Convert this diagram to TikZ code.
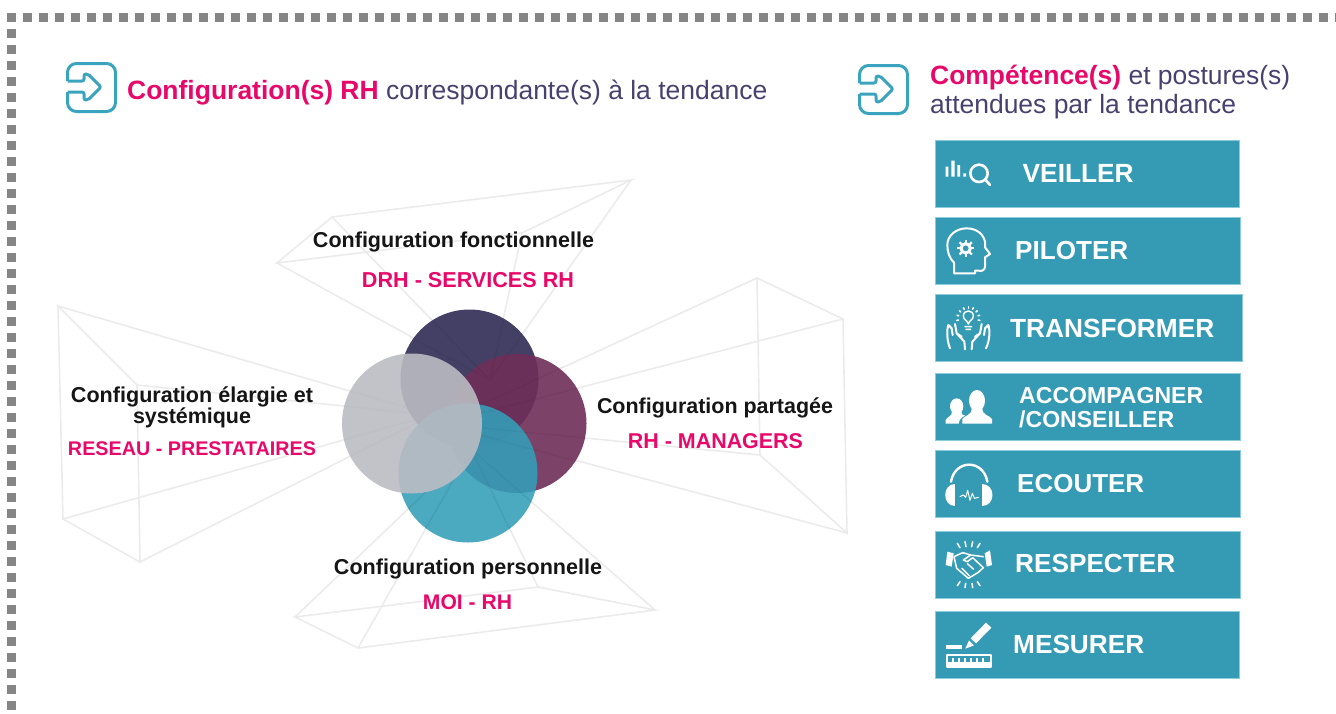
\documentclass[tikz,border=0pt]{standalone}
\usepackage{fontspec}
\usepackage{graphicx}
\usetikzlibrary{calc}
\setmainfont{Liberation Sans}
\definecolor{dotgray}{HTML}{858585}
\definecolor{pinkc}{HTML}{E8086A}
\definecolor{slatec}{HTML}{48406E}
\definecolor{tealbox}{HTML}{359BB5}
\definecolor{tealedge}{HTML}{8CCBDB}
\definecolor{iconteal}{HTML}{3AA3BD}
\definecolor{wire}{HTML}{EBEBEB}
\definecolor{navyc}{HTML}{3E3A60}
\definecolor{purpc}{HTML}{6F2E58}
\definecolor{tealc}{HTML}{359EB8}
\definecolor{grayc}{HTML}{BABCC3}
\definecolor{blackt}{HTML}{151515}
\newcommand{\fitw}[2]{\resizebox{#1pt}{!}{#2}}
\tikzset{
  x=1pt,y=-1pt,
  border dots/.style={dotgray,line width=8.6pt,dash pattern=on 8.6pt off 7.4pt},
  wireline/.style={wire,line width=1.6pt},
  wireshade/.style={black,opacity=.035,line width=1.4pt},
  labelb/.style={inner sep=0pt,anchor=base,text=blackt,font=\bfseries},
  labelp/.style={inner sep=0pt,anchor=base,text=pinkc,font=\bfseries},
  headt/.style={inner sep=0pt,anchor=base west,text=slatec},
  btn/.style={rectangle,fill=tealbox,draw=tealedge,line width=.7pt,inner sep=0pt},
  btnt/.style={inner sep=0pt,anchor=base west,text=white,font=\bfseries},
  entry/.style={iconteal,line width=3pt,line join=round},
  ico/.style={white,line width=2pt,line cap=round,line join=round},
}
\begin{document}
\begin{tikzpicture}
\useasboundingbox (0,0) rectangle (1336,713);
% dotted frame
\draw[border dots] (7,17.5) -- (1336,17.5);
\draw[border dots] (11.2,13) -- (11.2,713);
% entry icons
\foreach \sx/\sy in {0/0,792/2}{
\begin{scope}[shift={(\sx,\sy)}]
\draw[entry,rounded corners=9pt] (67.5,81) -- (67.5,63.5) -- (115.5,63.5) -- (115.5,111.5) -- (67.5,111.5) -- (67.5,92);
\draw[entry,rounded corners=2pt] (67.5,81) -- (84,81) -- (84,74) -- (88,74) -- (101,87) -- (88,100) -- (84,100) -- (84,92) -- (67.5,92);
\end{scope}}
% headings
\node[headt] (h1) at (127,99.5) {\fitw{640}{\textcolor{pinkc}{\bfseries Configuration(s) RH} correspondante(s) à la tendance}};
\node[headt] (h2) at (930,84) {\fitw{360}{\textcolor{pinkc}{\bfseries Compétence(s)} et postures(s)}};
\node[headt] (h3) at (930,113) {\fitw{306}{attendues par la tendance}};
% wire frames
\coordinate (ct) at (490,380);
\coordinate (cl) at (432,415);
\coordinate (cr) at (440,424);
\coordinate (cb) at (471,449);
\coordinate (tA) at (332,217); \coordinate (tB) at (631,180); \coordinate (tC) at (277,263); \coordinate (tD) at (522,233);
\coordinate (lA) at (58,306); \coordinate (lB) at (63,519); \coordinate (lC) at (140,562); \coordinate (lD) at (137,385);
\coordinate (rA) at (757,278); \coordinate (rB) at (843,319); \coordinate (rC) at (847,533); \coordinate (rD) at (760,455);
\coordinate (bA) at (295,617); \coordinate (bB) at (358,648); \coordinate (bC) at (655,610); \coordinate (bD) at (538,587);
\draw[wireline] (tC) -- (tA) -- (tB) -- (tD) -- cycle;
\draw[wireline] (tA) -- (ct) (tB) -- (ct) (tC) -- (ct) (tD) -- (ct);
\draw[wireline] (lA) -- (lB) -- (lC) -- (lD) -- cycle;
\draw[wireline] (lA) -- (cl) (lB) -- (cl) (lC) -- (cl) (lD) -- (cl);
\draw[wireline] (rA) -- (rB) -- (rC) -- (rD) -- cycle;
\draw[wireline] (rA) -- (cr) (rB) -- (cr) (rC) -- (cr) (rD) -- (cr);
\draw[wireline] (bA) -- (bB) -- (bC) -- (bD) -- cycle;
\draw[wireline] (bA) -- (cb) (bB) -- (cb) (bC) -- (cb) (bD) -- (cb);
% circles
\fill[navyc,opacity=.97] (469.5,378.5) circle [radius=69];
\fill[purpc,opacity=.9] (517,423.5) circle [radius=69.5];
\fill[tealc,opacity=.89] (468,473) circle [radius=69.5];
% faint traces of the wires inside the coloured circles
\coordinate (e1) at (410,337); \coordinate (e2) at (430,318); \coordinate (e3) at (504,318); \coordinate (e4) at (522,335);
\coordinate (e5) at (563,367); \coordinate (e6) at (578,388); \coordinate (e7) at (585,438); \coordinate (e8) at (578,462);
\coordinate (e9) at (407,510); \coordinate (e10) at (425,530); \coordinate (e11) at (510,530); \coordinate (e12) at (533,503);
\draw[wireshade] (e1) -- (ct) (e2) -- (ct) (e3) -- (ct) (e4) -- (ct);
\draw[wireshade] (e5) -- (cr) (e6) -- (cr) (e7) -- (cr) (e8) -- (cr);
\draw[wireshade] (e9) -- (cb) (e10) -- (cb) (e11) -- (cb) (e12) -- (cb);
\fill[grayc,opacity=.9] (412,423.5) circle [radius=70];
% labels
\node[labelb] (l1) at (453.5,247) {\fitw{281}{Configuration fonctionnelle}};
\node[labelp] (l2) at (468,287) {\fitw{212}{DRH - SERVICES RH}};
\node[labelb] (l3) at (192,402) {\fitw{242}{Configuration élargie et}};
\node[labelb] (l4) at (192,423) {\fitw{118}{systémique}};
\node[labelp] (l5) at (192,455) {\fitw{248}{RESEAU - PRESTATAIRES}};
\node[labelb] (l6) at (715,413) {\fitw{236}{Configuration partagée}};
\node[labelp] (l7) at (715.5,448) {\fitw{175}{RH - MANAGERS}};
\node[labelb] (l8) at (468,574) {\fitw{268}{Configuration personnelle}};
\node[labelp] (l9) at (467.5,609) {\fitw{89}{MOI - RH}};
% buttons
\node[btn,minimum width=303.5pt,minimum height=67pt] (b1) at (1087.2,173.5) {};
\node[btn,minimum width=305pt,minimum height=67pt] (b2) at (1088,250.7) {};
\node[btn,minimum width=306.5pt,minimum height=67pt] (b3) at (1088.7,328) {};
\node[btn,minimum width=305pt,minimum height=67pt] (b4) at (1088,406.7) {};
\node[btn,minimum width=305pt,minimum height=67pt] (b5) at (1088,484) {};
\node[btn,minimum width=305pt,minimum height=67pt] (b6) at (1088,564.5) {};
\node[btn,minimum width=303.5pt,minimum height=67pt] (b7) at (1087.2,645) {};
\node[btnt] (t1) at (1022.5,182) {\fitw{111}{VEILLER}};
\node[btnt] (t2) at (1015,259) {\fitw{113}{PILOTER}};
\node[btnt] (t3) at (1010,337) {\fitw{204}{TRANSFORMER}};
\node[btnt] (t4) at (1019,403) {\fitw{184}{ACCOMPAGNER}};
\node[btnt] (t5) at (1019,427) {\fitw{155}{/CONSEILLER}};
\node[btnt] (t6) at (1017,492) {\fitw{127}{ECOUTER}};
\node[btnt] (t7) at (1015,572) {\fitw{160}{RESPECTER}};
\node[btnt] (t8) at (1013,653) {\fitw{131}{MESURER}};
% icons, upper three
\begin{scope}[shift={(930,130)},scale=1/3]
 % veiller
 \fill[white] (47,110) rectangle (55,140) (64,92) rectangle (74,140) (82,105) rectangle (90,140) (100,130) rectangle (108,140);
 \draw[ico,line width=2.6pt] (147,130) circle [radius=26] (167,150) -- (180,165);
 % piloter
 \draw[ico] (72,430) -- (72,398) .. controls (58,385) and (52,365) .. (52,345) .. controls (52,315) and (80,295) .. (110,295) .. controls (150,295) and (170,325) .. (165,352) -- (180,372) -- (165,382) -- (165,410) .. controls (165,420) and (155,425) .. (145,422) -- (135,422) -- (135,430) -- cycle;
 \draw[ico,line width=3pt] (107,355) circle [radius=14];
 \foreach \a in {0,45,...,315}{\draw[ico,line width=2.2pt,line cap=butt] ($(107,355)+(\a:17)$) -- ($(107,355)+(\a:26)$);}
 % transformer
 \draw[ico,line width=1.4pt] (115,582) .. controls (112,570) and (100,570) .. (100,558) .. controls (100,538) and (130,538) .. (130,558) .. controls (130,570) and (118,570) .. (115,582) (105,590) -- (125,590) (108,598) -- (122,598);
 \foreach \a in {170,195,220,245,270,295,320,345,10}{\draw[ico,line width=1.6pt] ($(115,565)+(\a:30)$) -- ($(115,565)+(\a:35)$);}
 \draw[ico] (60,655) .. controls (50,630) and (50,600) .. (55,585) -- (65,595) -- (68,615) (75,582) -- (80,610) -- (103,635) -- (105,658) (80,610) -- (95,620);
 \draw[ico] (168,655) .. controls (180,630) and (180,600) .. (175,585) -- (165,595) -- (162,615) (155,582) -- (150,610) -- (127,635) -- (125,658) (150,610) -- (135,620);
\end{scope}
% icons, lower four
\begin{scope}[shift={(930,365)},scale=1/3]
 % accompagner
 \fill[white] (141,107) ellipse [x radius=24,y radius=32];
 \fill[white] (97,176) -- (97,162) .. controls (105,150) and (125,152) .. (125,130) -- (157,130) .. controls (157,152) and (178,150) .. (186,162) -- (186,176) -- cycle;
 \fill[white] (80,124) ellipse [x radius=20,y radius=24];
 \fill[white] (47,176) -- (47,165) .. controls (52,155) and (66,155) .. (66,140) -- (94,140) .. controls (94,148) and (98,150) .. (105,152) .. controls (92,158) and (88,165) .. (86,176) -- cycle;
 % ecouter
 \draw[ico,line width=2.4pt] (63,350) .. controls (75,282) and (160,282) .. (172,350);
 \fill[white] (76,358) .. controls (35,358) and (35,422) .. (76,422) -- cycle;
 \fill[white] (155,358) .. controls (198,358) and (198,422) .. (155,422) -- cycle;
 \draw[ico,line width=1pt] (90,395) -- (100,390) -- (107,397) -- (113,376) -- (120,406) -- (127,385) -- (133,400) -- (145,397);
 % respecter
 \fill[white] (52,560) -- (71,565) -- (65,605) -- (47,600) -- cycle;
 \fill[white] (164,565) -- (180,556) -- (186,600) -- (170,605) -- cycle;
 \draw[ico,line width=1.5pt] (72,575) -- (98,563) -- (122,570) -- (100,585) -- (112,590) -- (128,578) -- (160,608) -- (145,622) -- (115,640) -- (80,610) -- cycle (122,570) -- (160,575) (130,612) -- (112,596) (118,632) -- (96,610);
 \foreach \xa/\ya/\xb/\yb in {82/535/90/548,105/530/108/545,128/530/125/545,150/535/142/548,82/662/90/650,105/668/107/655,128/668/126/655,150/662/142/650}{\draw[ico,line width=1.5pt] (\xa,\ya) -- (\xb,\yb);}
 % mesurer
 \fill[white] (168,773) -- (184,788) -- (138,835) -- (122,820) -- cycle;
 \fill[white] (117,826) -- (132,841) -- (106,851) -- cycle;
 \fill[white] (48,840) rectangle (96,851);
 \draw[ico,line width=2pt,line cap=butt] (50,870) rectangle (184,907);
 \fill[white] (50,892) rectangle (184,907);
 \foreach \x in {66,84,...,170}{\fill[white] (\x,880) rectangle (\x+5,892);}
\end{scope}
\end{tikzpicture}
\end{document}
